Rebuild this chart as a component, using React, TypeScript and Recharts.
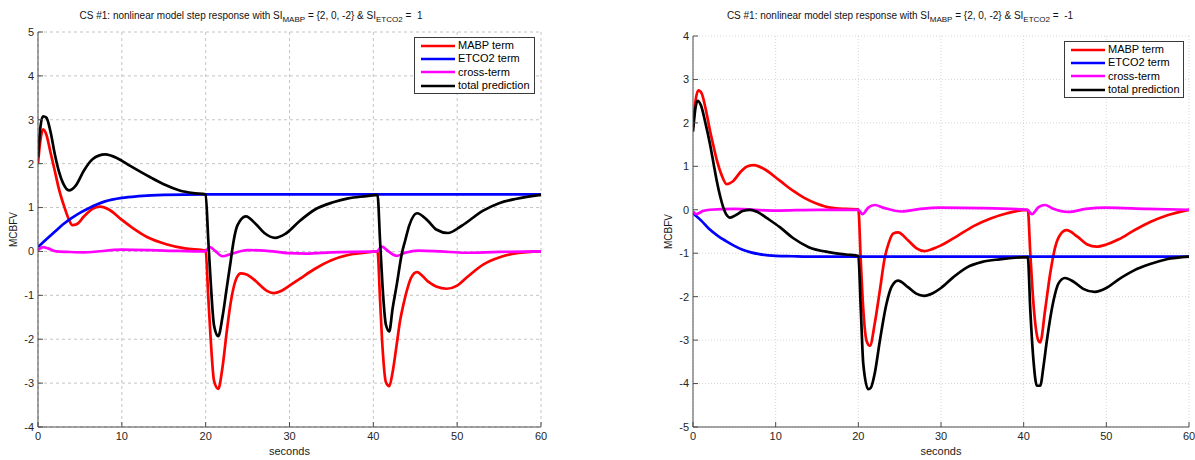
import React from "react";
import { LineChart, Line, XAxis, YAxis, CartesianGrid, Legend } from "recharts";

type Pt = [number, number];

const SERIES = ["MABP term", "ETCO2 term", "cross-term", "total prediction"];
const COLORS = ["#ff0000", "#0000ff", "#ff00ff", "#000000"];
const X_TICKS = [0, 10, 20, 30, 40, 50, 60];
const LEFT_Y_TICKS = [-4, -3, -2, -1, 0, 1, 2, 3, 4, 5];
const RIGHT_Y_TICKS = [-5, -4, -3, -2, -1, 0, 1, 2, 3, 4];

// left panel: SI_ETCO2 = 1  ([seconds, MCBFV])
const L_MABP: Pt[] = [
  [0, 2.0], [0.3, 2.55], [0.6, 2.78], [1.0, 2.66], [1.5, 2.25], [2.0, 1.84], [2.5, 1.42],
  [3.2, 0.98], [3.7, 0.72], [4.1, 0.6], [4.6, 0.62], [5.5, 0.8], [6.5, 0.97], [7.4, 1.02],
  [8.5, 0.95], [10, 0.72], [11.4, 0.52], [13, 0.33], [15.4, 0.16], [17.5, 0.07], [20, 0.02],
  [20.3, -1.0], [20.6, -2.0], [21.0, -2.95], [21.5, -3.13], [22.0, -2.65], [22.5, -1.85],
  [22.9, -1.27], [23.3, -0.85], [23.7, -0.6], [24.2, -0.5], [24.8, -0.52], [26, -0.68],
  [26.5, -0.77], [27.3, -0.9], [28.1, -0.95], [29, -0.9], [30, -0.78], [31.25, -0.62],
  [33, -0.4], [35, -0.2], [37, -0.08], [39, -0.03], [40.5, 0], [40.8, -1.1], [41.1, -2.2],
  [41.5, -2.98], [41.9, -3.07], [42.3, -2.75], [42.8, -2.1], [43.2, -1.57], [43.6, -1.2],
  [44.0, -0.89], [44.5, -0.6], [45.2, -0.47], [46.5, -0.68], [47.5, -0.8], [48.75, -0.85],
  [50, -0.78], [51.1, -0.6], [53.1, -0.3], [55, -0.14], [57.1, -0.04], [60, 0],
];
const L_ETCO2: Pt[] = [
  [0, 0.1], [1, 0.28], [2, 0.45], [3, 0.62], [4, 0.76], [5, 0.88], [6, 0.98], [7, 1.07],
  [8, 1.14], [10, 1.22], [12, 1.26], [15, 1.29], [20, 1.3], [40, 1.3], [60, 1.3],
];
const L_CROSS: Pt[] = [
  [0, 0.03], [0.6, 0.1], [1.2, 0.07], [2.2, 0.0], [3.5, -0.01], [5.5, -0.02], [10, 0.04],
  [15, 0.02], [19.9, 0.0], [20.5, 0.1], [21.2, 0.0], [22, -0.11], [23, -0.06], [25, 0.03],
  [27, 0.02], [30, -0.04], [32, -0.05], [35, -0.02], [40.4, 0.0], [41.0, 0.11], [41.8, 0.0],
  [42.8, -0.1], [43.8, -0.03], [45.4, 0.02], [48, 0.0], [51, -0.03], [55, -0.01], [60, 0.0],
];
const L_TOTAL: Pt[] = [
  [0, 2.15], [0.3, 2.85], [0.6, 3.08], [1.0, 3.05], [1.5, 2.72], [2.0, 2.22], [2.5, 1.82],
  [3.0, 1.55], [3.7, 1.39], [4.5, 1.5], [5.5, 1.85], [6.5, 2.1], [8, 2.21], [9.5, 2.12],
  [11, 1.95], [13.4, 1.69], [15, 1.53], [16.9, 1.39], [18.5, 1.33], [20, 1.3], [20.3, 0.3],
  [20.6, -0.7], [21.0, -1.69], [21.5, -1.93], [22.0, -1.5], [22.5, -0.85], [23.0, -0.2],
  [23.3, 0.2], [23.8, 0.6], [24.8, 0.8], [26, 0.62], [27, 0.42], [28.3, 0.31], [29.5, 0.4],
  [31.25, 0.7], [33, 0.95], [35.2, 1.12], [37, 1.21], [39.2, 1.26], [40.5, 1.29],
  [40.8, 0.25], [41.1, -0.8], [41.5, -1.67], [41.9, -1.82], [42.3, -1.3], [42.8, -0.75],
  [43.4, -0.05], [43.8, 0.25], [44.3, 0.6], [45.2, 0.87], [46.5, 0.7], [47.5, 0.5],
  [48.9, 0.42], [50.5, 0.58], [53.1, 0.93], [55, 1.1], [57.1, 1.2], [60, 1.29],
];

// right panel: SI_ETCO2 = -1
const R_MABP: Pt[] = [
  [0, 1.9], [0.3, 2.5], [0.65, 2.75], [1.05, 2.68], [1.5, 2.35], [2.06, 1.82], [2.5, 1.45],
  [2.9, 1.13], [3.5, 0.78], [4.07, 0.59], [4.8, 0.65], [5.8, 0.88], [6.6, 1.0], [7.4, 1.03],
  [8.5, 0.95], [10.5, 0.67], [12, 0.45], [13.4, 0.28], [15, 0.14], [16.6, 0.05], [18.5, 0.02],
  [20, 0.01], [20.3, -1.2], [20.6, -2.3], [21.0, -3.02], [21.4, -3.13], [22.0, -2.6],
  [22.6, -1.86], [23.2, -1.1], [23.7, -0.75], [24.2, -0.55], [24.8, -0.52], [26, -0.7],
  [27, -0.88], [28, -0.95], [29, -0.9], [30, -0.82], [32, -0.6], [34, -0.37], [36, -0.2],
  [38, -0.08], [40.5, 0.0], [40.8, -1.0], [41.2, -2.2], [41.8, -3.02], [42.0, -3.05],
  [42.6, -2.3], [43.2, -1.48], [43.8, -0.87], [44.4, -0.58], [45.2, -0.47], [46.5, -0.62],
  [47.7, -0.8], [48.8, -0.85], [50, -0.8], [51.5, -0.68], [53.3, -0.48], [55.3, -0.28],
  [57.3, -0.13], [60, 0.0],
];
const R_ETCO2: Pt[] = [
  [0, -0.08], [1, -0.25], [2, -0.45], [3, -0.6], [4, -0.72], [5, -0.83], [6, -0.92],
  [7, -0.98], [8, -1.02], [10, -1.06], [12, -1.07], [15, -1.08], [40, -1.08], [60, -1.08],
];
const R_CROSS: Pt[] = [
  [0, -0.04], [0.4, -0.1], [1.2, -0.03], [2, 0.0], [5, 0.02], [10, -0.02], [15, 0.0],
  [20, 0.0], [20.5, -0.1], [21.2, 0.05], [22, 0.11], [23, 0.05], [25.2, -0.04], [27.5, 0.02],
  [29.9, 0.05], [35, 0.04], [40.4, 0.0], [41.0, -0.1], [41.8, 0.06], [42.6, 0.11],
  [43.5, 0.03], [45.4, -0.05], [47.5, 0.02], [50, 0.05], [55, 0.02], [60, 0.0],
];
const R_TOTAL: Pt[] = [
  [0, 1.8], [0.3, 2.35], [0.56, 2.51], [0.97, 2.4], [1.5, 2.0], [2.06, 1.51], [2.5, 1.05],
  [2.87, 0.67], [3.3, 0.3], [3.67, 0.05], [4.0, -0.1], [4.5, -0.18], [5.2, -0.12], [6, -0.03],
  [6.9, 0.0], [7.8, -0.05], [9, -0.2], [10.5, -0.4], [12.1, -0.65], [14, -0.86], [16.6, -0.98],
  [18.5, -1.03], [20, -1.06], [20.3, -2.3], [20.6, -3.55], [21.2, -4.13], [21.5, -4.1],
  [22.0, -3.75], [22.6, -3.02], [23.4, -2.17], [24.0, -1.78], [24.8, -1.63], [26, -1.78],
  [27, -1.93], [28, -1.98], [29, -1.92], [30, -1.8], [31.5, -1.55], [33.1, -1.33], [35, -1.2],
  [37.1, -1.14], [40.5, -1.09], [40.8, -2.3], [41.2, -3.5], [41.6, -4.05], [42.0, -4.05],
  [42.4, -3.6], [42.8, -3.02], [43.6, -2.1], [44.2, -1.7], [45.0, -1.57], [46, -1.65],
  [47.2, -1.82], [48.6, -1.89], [50, -1.8], [51.5, -1.6], [53.3, -1.4], [55.3, -1.25],
  [57.3, -1.14], [60, -1.08],
];

const FONT = '"Liberation Sans", Arial, Helvetica, sans-serif';
const TICK = { fill: "#262626", fontSize: 11, fontFamily: FONT };
const AXIS = "#4d4d4d";

const toRows = (pts: Pt[]) => pts.map(([t, v]) => ({ t, v }));

// eslint-disable-next-line @typescript-eslint/no-explicit-any
function LegendBox({ payload }: any) {
  const items = [...(payload ?? [])].sort(
    (a: { value: string }, b: { value: string }) => SERIES.indexOf(a.value) - SERIES.indexOf(b.value)
  );
  return (
    <div style={{
      boxSizing: "border-box", height: 57, border: "1px solid #3a3a3a", background: "#fff",
      padding: "1px 2px 0 6px", fontFamily: FONT, fontSize: 11, color: "#000", lineHeight: "13.4px",
    }}>
      {items.map((it: { value: string; color: string }) => (
        <div key={it.value} style={{ display: "flex", alignItems: "center", whiteSpace: "nowrap", height: 13.4 }}>
          <svg width={34} height={6} style={{ marginRight: 3, flex: "none" }}>
            <line x1={0} x2={34} y1={3} y2={3} stroke={it.color} strokeWidth={2.7} />
          </svg>
          <span>{it.value}</span>
        </div>
      ))}
    </div>
  );
}

interface PanelProps {
  left: number;
  width: number;
  top: number;
  right: number;
  yWidth: number;
  yLabelX: number;
  yTicks: number[];
  series: Pt[][];
  legendLeft: number;
  legendTop: number;
  legendWidth: number;
  gridColor: string;
  gridDash: string;
}

function Panel(p: PanelProps) {
  const yDomain: [number, number] = [p.yTicks[0], p.yTicks[p.yTicks.length - 1]];
  return (
    <div style={{ position: "absolute", left: p.left, top: 0 }}>
      <LineChart width={p.width} height={460} margin={{ top: p.top, right: p.right, left: 0, bottom: 0 }}>
        <CartesianGrid stroke={p.gridColor} strokeDasharray={p.gridDash} />
        <XAxis
          dataKey="t" type="number" domain={[0, 60]} ticks={X_TICKS} height={33}
          tick={TICK} tickSize={-5} tickMargin={10} stroke={AXIS} allowDataOverflow
          label={({ viewBox }: any) => (
            <text x={viewBox.x + viewBox.width / 2} y={viewBox.y + 28} textAnchor="middle"
                  fontFamily={FONT} fontSize={11} fill="#1a1a1a">seconds</text>
          )}
        />
        <YAxis
          type="number" domain={yDomain} ticks={p.yTicks} width={p.yWidth}
          tick={TICK} tickSize={-5} tickMargin={9} stroke={AXIS} allowDataOverflow
          label={({ viewBox }: any) => {
            const cx = viewBox.x + p.yLabelX;
            const cy = viewBox.y + viewBox.height / 2;
            return (
              <text x={cx} y={cy} textAnchor="middle" dominantBaseline="central"
                    transform={`rotate(-90, ${cx}, ${cy})`} fontFamily={FONT} fontSize={10} fill="#1a1a1a">
                MCBFV
              </text>
            );
          }}
        />
        <XAxis xAxisId="top" orientation="top" type="number" domain={[0, 60]} ticks={X_TICKS}
               height={0} mirror tick={false} tickSize={5} stroke={AXIS} />
        <YAxis yAxisId="right" orientation="right" type="number" domain={yDomain} ticks={p.yTicks}
               width={0} mirror tick={false} tickSize={5} stroke={AXIS} />
        <Legend
          layout="vertical" align="center" verticalAlign="middle"
          content={<LegendBox />}
          wrapperStyle={{ left: p.legendLeft, top: p.legendTop, width: p.legendWidth, right: "auto", bottom: "auto" }}
        />
        {p.series.map((pts, i) => (
          <Line
            key={SERIES[i]}
            data={toRows(pts)}
            dataKey="v"
            name={SERIES[i]}
            type="monotone"
            stroke={COLORS[i]}
            strokeWidth={2.7}
            dot={false}
            isAnimationActive={false}
          />
        ))}
      </LineChart>
    </div>
  );
}

function Title({ center, value }: { center: number; value: string }) {
  const sub = { fontSize: 8, position: "relative" as const, top: 3 };
  return (
    <div style={{
      position: "absolute", left: center, top: 9, transform: "translateX(-50%)", whiteSpace: "nowrap",
      fontFamily: FONT, fontSize: 10, color: "#111", lineHeight: "13px",
    }}>
      CS #1: nonlinear model step response with SI<span style={sub}>MABP</span> = {"{2, 0, -2}"} &amp; SI
      <span style={sub}>ETCO2</span> = {"\u00a0"}{value}
    </div>
  );
}

export default function App() {
  return (
    <div style={{ position: "absolute", left: 0, top: 0, width: 1195, height: 460, background: "#fff", overflow: "hidden" }}>
      <Panel
        left={0} width={560} top={32} right={19} yWidth={38} yLabelX={13}
        yTicks={LEFT_Y_TICKS} series={[L_MABP, L_ETCO2, L_CROSS, L_TOTAL]}
        legendLeft={414} legendTop={37} legendWidth={121}
        gridColor="#c4c4c4" gridDash="3 3"
      />
      <Panel
        left={640} width={555} top={36} right={6} yWidth={53} yLabelX={28}
        yTicks={RIGHT_Y_TICKS} series={[R_MABP, R_ETCO2, R_CROSS, R_TOTAL]}
        legendLeft={1064 - 640} legendTop={41} legendWidth={120}
        gridColor="#d6d6d6" gridDash="1 2"
      />
      <Title center={251} value="1" />
      <Title center={900} value="-1" />
    </div>
  );
}
